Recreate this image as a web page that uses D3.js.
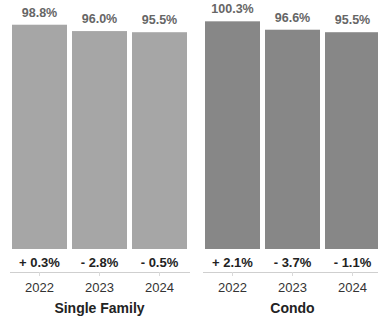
<!DOCTYPE html>
<html>
<head>
<meta charset="utf-8">
<script src="https://cdn.jsdelivr.net/npm/d3@7"></script>
<style>
  html, body { margin: 0; padding: 0; background: #fff; }
  svg { display: block; font-family: "Liberation Sans", Arial, Helvetica, sans-serif; }
</style>
</head>
<body>
<svg id="chart" width="378" height="318"></svg>
<script>
const groups = ["Single Family", "Condo"];
const years = ["2022", "2023", "2024"];
const singleFamily = [98.8, 96.0, 95.5];
const condo = [100.3, 96.6, 95.5];
const singleFamilyChange = [0.3, -2.8, -0.5];
const condoChange = [2.1, -3.7, -1.1];
const groupColors = ["#a6a6a6", "#878787"];

const seriesByGroup = [
  { name: groups[0], values: singleFamily, change: singleFamilyChange, color: groupColors[0] },
  { name: groups[1], values: condo, change: condoChange, color: groupColors[1] }
];

const svg = d3.select("#chart");
const baseY = 249, axisY = 272;

const gx = d3.scaleBand().domain(groups).range([9.5, 382.5]).paddingInner(13 / 193);
const x = d3.scaleBand().domain(years).range([0, gx.bandwidth()])
  .paddingInner(5 / 60).paddingOuter(2.5 / 60);
const y = d3.scaleLinear().domain([0, 100]).range([baseY, 22]);

const fmtVal = v => v.toFixed(1) + "%";
const fmtChg = v => (v >= 0 ? "+ " : "- ") + Math.abs(v).toFixed(1) + "%";

seriesByGroup.forEach(s => {
  const g = svg.append("g").attr("transform", `translate(${gx(s.name)},0)`);
  const rows = years.map((yr, i) => ({ yr, v: s.values[i], c: s.change[i] }));

  g.selectAll("rect").data(rows).join("rect")
    .attr("x", d => x(d.yr))
    .attr("y", d => y(d.v))
    .attr("width", x.bandwidth())
    .attr("height", d => baseY - y(d.v))
    .attr("fill", s.color);

  g.selectAll("text.val").data(rows).join("text")
    .attr("class", "val")
    .attr("x", d => x(d.yr) + x.bandwidth() / 2)
    .attr("y", d => y(d.v) - 8)
    .attr("text-anchor", "middle")
    .attr("font-size", 12.5)
    .attr("font-weight", "bold")
    .attr("fill", "#666")
    .text(d => fmtVal(d.v));

  g.selectAll("text.chg").data(rows).join("text")
    .attr("class", "chg")
    .attr("x", d => x(d.yr) + x.bandwidth() / 2)
    .attr("y", 267)
    .attr("text-anchor", "middle")
    .attr("font-size", 13)
    .attr("font-weight", "bold")
    .attr("fill", "#222")
    .text(d => fmtChg(d.c));

  const axis = d3.axisBottom(x).tickSizeInner(4).tickSizeOuter(0).tickPadding(7);
  const ag = g.append("g").attr("transform", `translate(0,${axisY})`).call(axis);
  ag.select(".domain").attr("stroke", "#cfcfcf");
  ag.selectAll(".tick line").attr("stroke", "#dadada");
  ag.selectAll(".tick text")
    .attr("font-family", "Liberation Sans, Arial, sans-serif")
    .attr("font-size", 13)
    .attr("fill", "#333");

  g.append("text")
    .attr("x", gx.bandwidth() / 2)
    .attr("y", 313)
    .attr("text-anchor", "middle")
    .attr("font-size", 14)
    .attr("font-weight", "bold")
    .attr("fill", "#222")
    .text(s.name);
});
</script>
</body>
</html>
